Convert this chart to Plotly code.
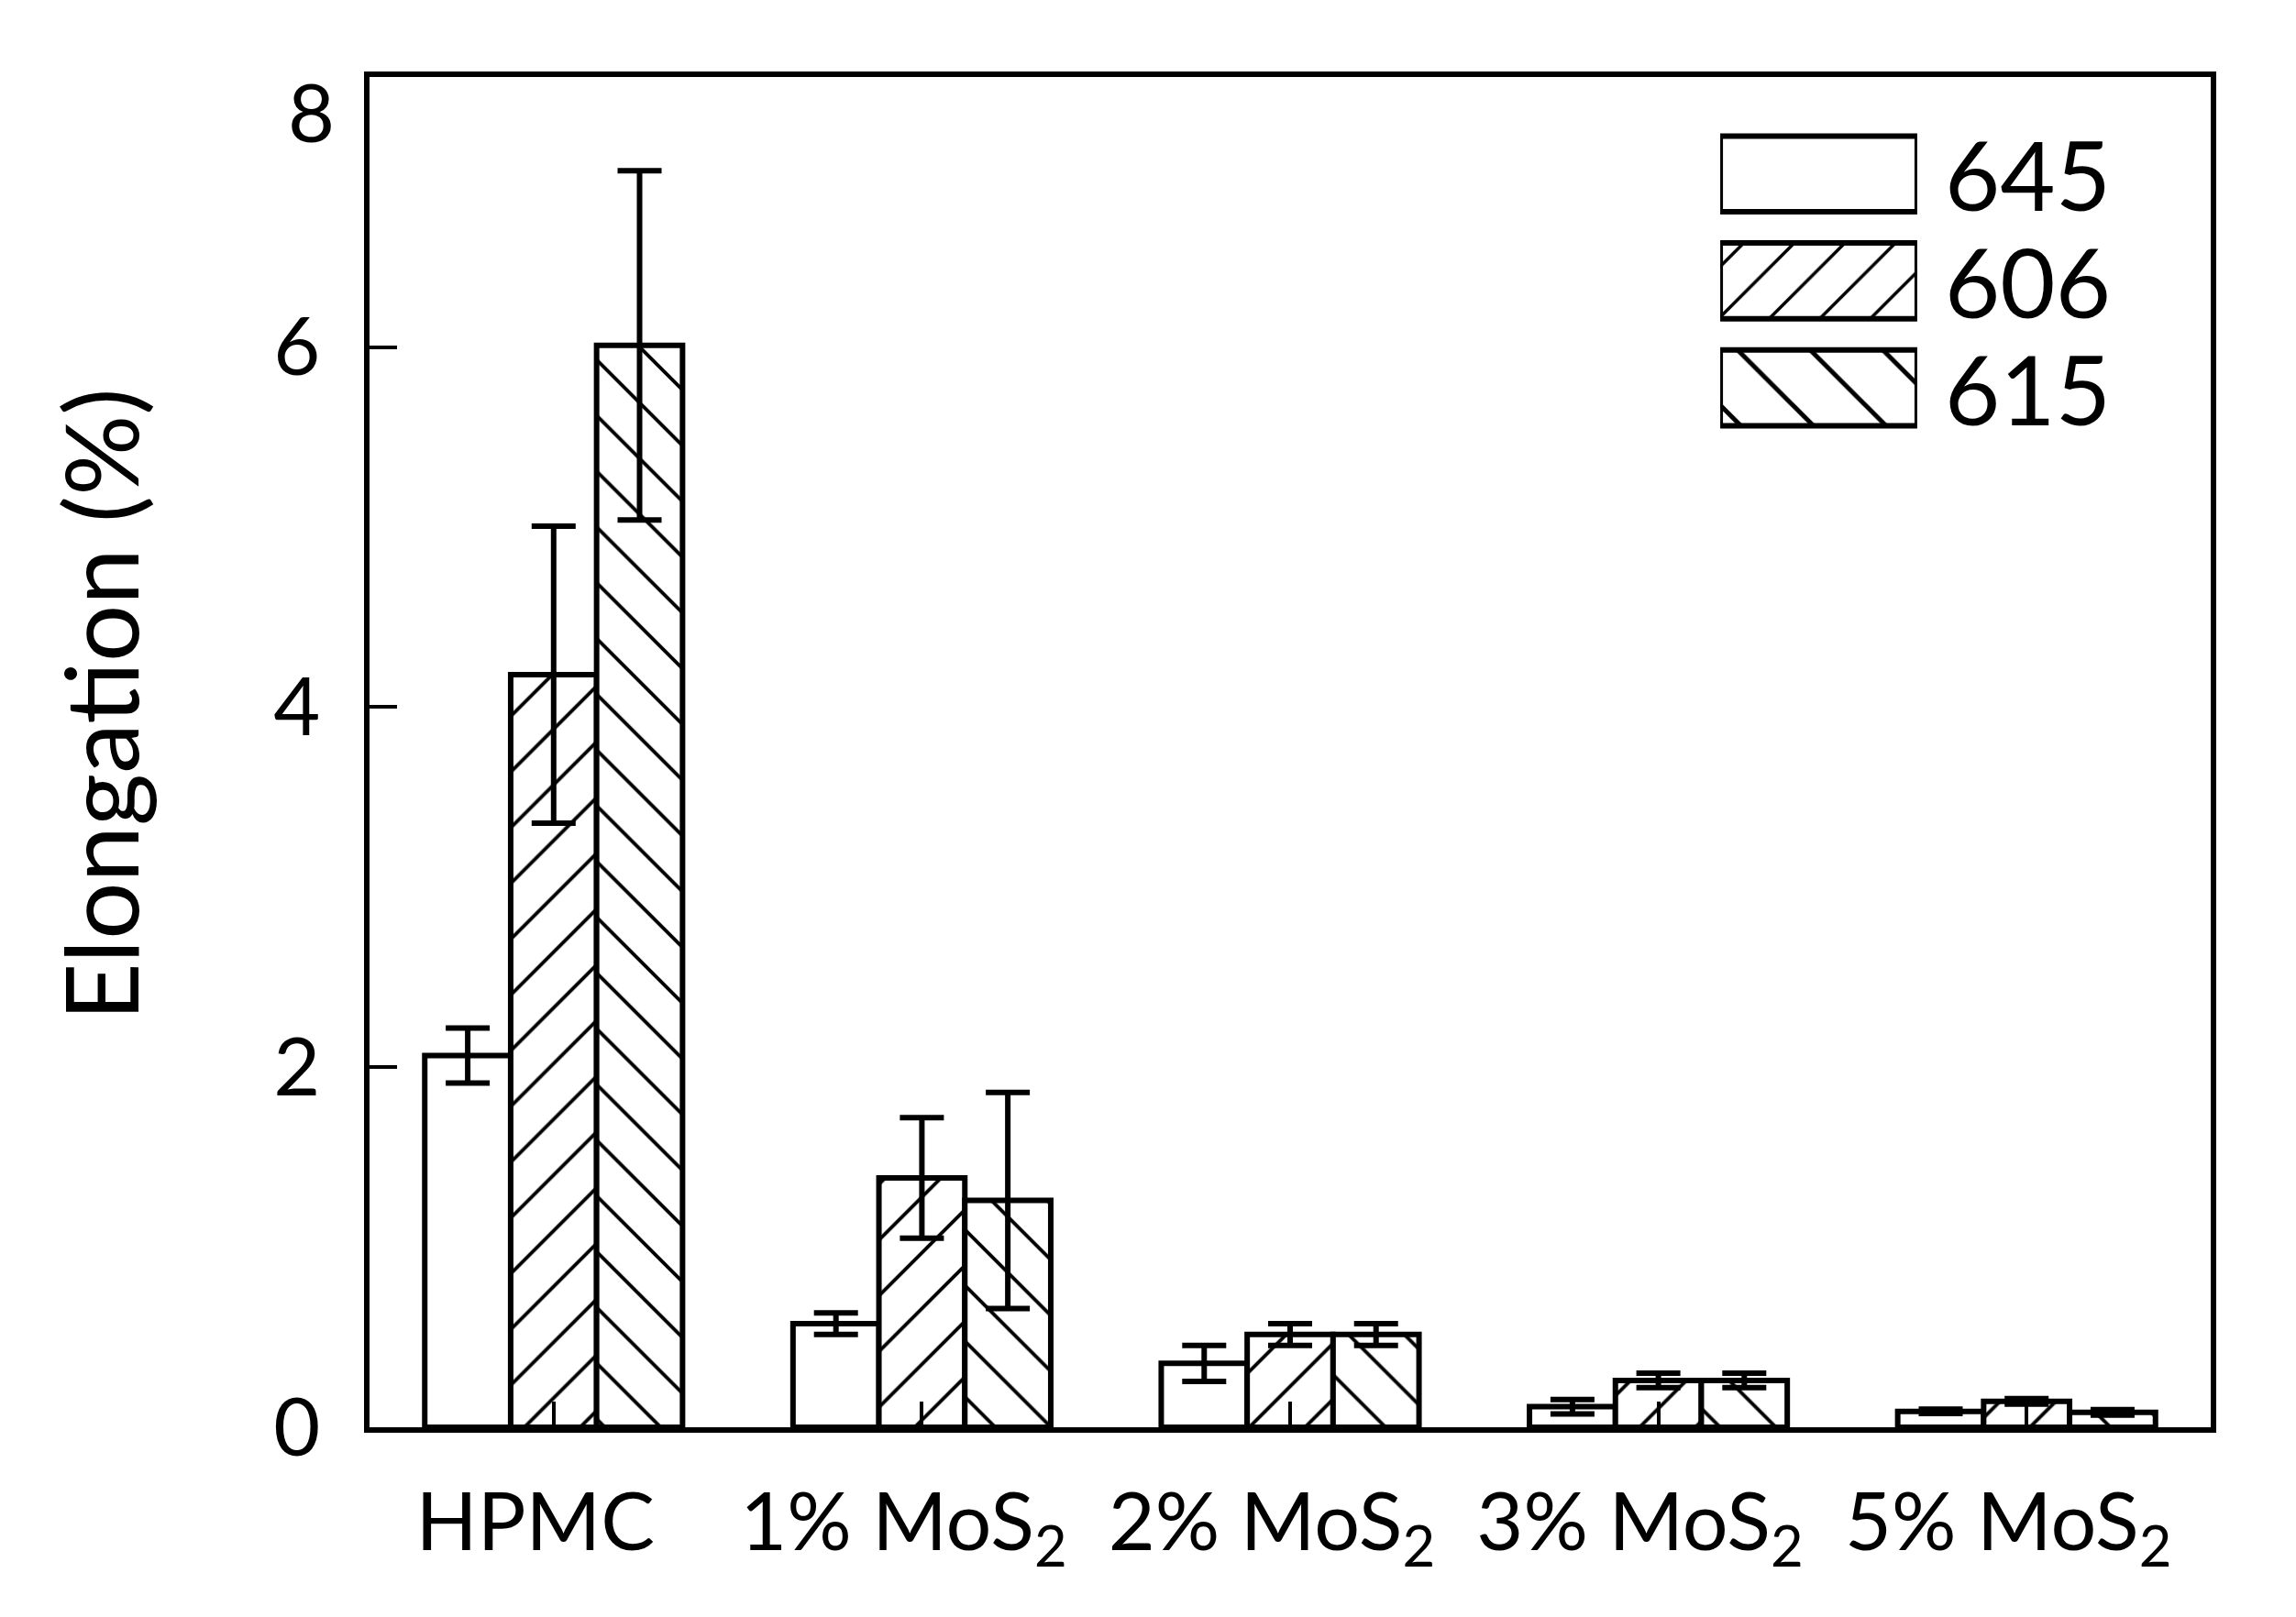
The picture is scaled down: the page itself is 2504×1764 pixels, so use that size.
import plotly.graph_objects as go

# ---------------- data ----------------
categories = ["HPMC", "1% MoS<sub>2</sub>", "2% MoS<sub>2</sub>", "3% MoS<sub>2</sub>", "5% MoS<sub>2</sub>"]
series_names = ["645", "606", "615"]

values_645 = [2.065, 0.575, 0.355, 0.114, 0.088]
errors_645 = [0.153, 0.060, 0.100, 0.040, 0.012]

values_606 = [4.18, 1.385, 0.515, 0.26, 0.144]
errors_606 = [0.825, 0.335, 0.060, 0.040, 0.015]

values_615 = [6.01, 1.26, 0.515, 0.26, 0.083]
errors_615 = [0.97, 0.60, 0.060, 0.040, 0.015]

y_tick_values = [0, 2, 4, 6]
y_tick_labels = ["0", "2", "4", "6"]
y_top_label = "8"
y_title = "Elongation (%)"

# ---------------- style ----------------
FONT = "Lato"
BLACK = "black"
patterns = ["", "/", "\\"]
legend_pattern_sizes = [40, 39, 56]

fig = go.Figure()

all_values = [values_645, values_606, values_615]
all_errors = [errors_645, errors_606, errors_615]
for name, vals, errs, shape in zip(series_names, all_values, all_errors, patterns):
    fig.add_trace(go.Bar(
        x=categories, y=vals, name=name,
        marker=dict(
            color="white",
            line=dict(color=BLACK, width=6),
            pattern=dict(shape=shape, size=43, solidity=0.09,
                         fgcolor=BLACK, fgopacity=1, bgcolor="white",
                         fillmode="overlay"),
        ),
        error_y=dict(type="data", array=errs, visible=True,
                     color=BLACK, thickness=6, width=24),
        xaxis="x", yaxis="y", hoverinfo="skip",
    ))

# custom legend swatches drawn as bars on an inset axis
fig.add_trace(go.Bar(
    x=[1] * len(series_names), y=series_names, orientation="h",
    width=0.709,
    marker=dict(
        color="white",
        line=dict(color=BLACK, width=6),
        pattern=dict(shape=patterns, size=legend_pattern_sizes, solidity=0.09,
                     fgcolor=BLACK, fgopacity=1, bgcolor="white",
                     fillmode="overlay"),
    ),
    xaxis="x2", yaxis="y2", hoverinfo="skip",
))

annotations = [
    dict(text=y_title, textangle=-90, xref="paper", yref="paper",
         x=-0.147, y=0.535, xanchor="center", yanchor="middle",
         showarrow=False, font=dict(family=FONT, size=110, color=BLACK)),
    dict(text=y_top_label, xref="paper", yref="y", x=0, y=7.31,
         xanchor="right", yanchor="middle", xshift=-36,
         showarrow=False, font=dict(family=FONT, size=88, color=BLACK)),
]
for i, name in enumerate(series_names):
    annotations.append(dict(
        text=name, xref="x2", yref="y2", x=1, y=i,
        xanchor="left", yanchor="middle", xshift=28,
        showarrow=False, font=dict(family=FONT, size=104, color=BLACK)))

fig.update_layout(
    width=2504, height=1764,
    margin=dict(l=395, r=101, t=76, b=215),
    paper_bgcolor="white", plot_bgcolor="white",
    showlegend=False,
    barmode="group", bargap=0.3, bargroupgap=0,
    font=dict(family=FONT, color=BLACK),
    xaxis=dict(
        type="category", range=[-0.5, 4.5],
        ticks="inside", ticklen=28, tickwidth=4, tickcolor=BLACK,
        showline=True, linewidth=6, linecolor=BLACK, mirror=True,
        showgrid=False, zeroline=False,
        tickfont=dict(family=FONT, size=88, color=BLACK),
        ticklabelstandoff=22, ticklabelshift=-20,
    ),
    yaxis=dict(
        range=[0, 7.5],
        tickvals=y_tick_values, ticktext=y_tick_labels,
        ticks="inside", ticklen=30, tickwidth=4, tickcolor=BLACK,
        showline=True, linewidth=6, linecolor=BLACK, mirror=True,
        showgrid=False, zeroline=False,
        tickfont=dict(family=FONT, size=88, color=BLACK),
        ticklabelstandoff=30,
    ),
    xaxis2=dict(domain=[0.7336, 0.8406], range=[0, 1], anchor="y2",
                showline=False, showgrid=False, zeroline=False,
                showticklabels=False, ticks="", fixedrange=True),
    yaxis2=dict(domain=[0.7260, 0.9720], anchor="x2", type="category",
                autorange="reversed",
                showline=False, showgrid=False, zeroline=False,
                showticklabels=False, ticks="", fixedrange=True),
    annotations=annotations,
)

fig.write_html("out.html")
